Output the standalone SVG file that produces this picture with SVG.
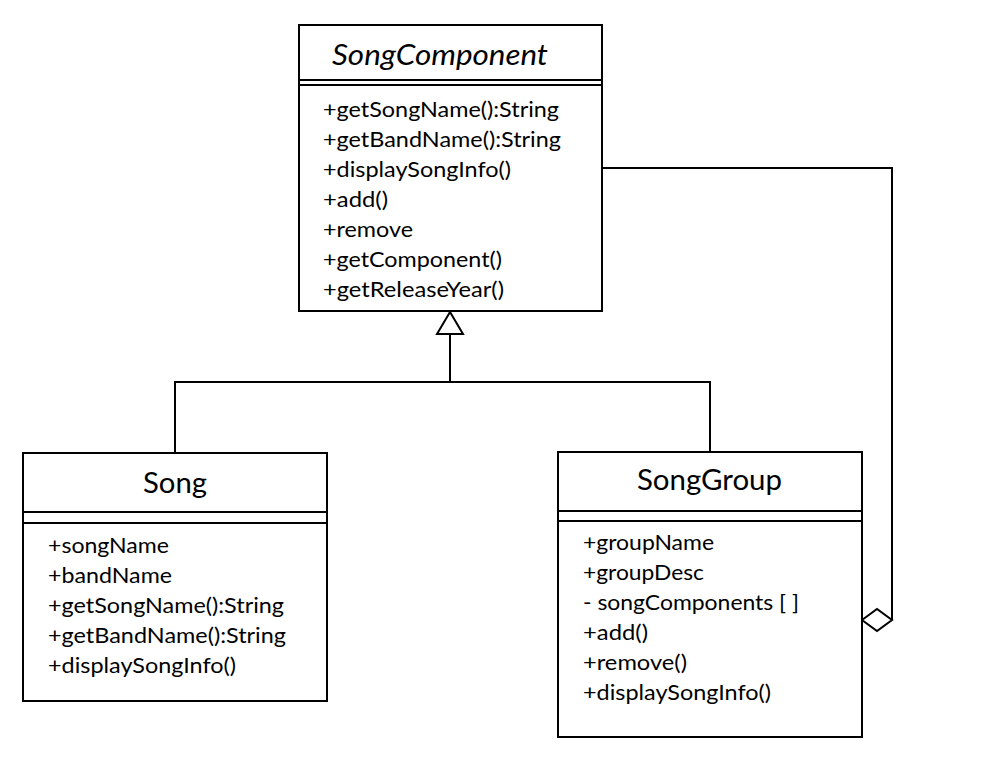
<svg xmlns="http://www.w3.org/2000/svg" width="1000" height="764" viewBox="0 0 1000 764">
<style>
.box{fill:#fff;stroke:#000;stroke-width:2}
.ln{fill:none;stroke:#000;stroke-width:2}
.t{font-family:Lato,"Liberation Sans",sans-serif;font-size:22px;fill:#000}
.h{font-family:Lato,"Liberation Sans",sans-serif;font-size:28px;fill:#000}
</style>
<rect width="1000" height="764" fill="#fff"/>
<g id="connectors">
<polyline class="ln" points="175,453 175,382 710,382 710,452"/>
<line class="ln" x1="450" y1="334" x2="450" y2="382"/>
<polygon class="ln" points="450,312 437,334 463,334" fill="#fff"/>
<polyline class="ln" points="602,168 892,168 892,620"/>
<polygon class="ln" points="862,620 877,609 892,620 877,631" fill="#fff"/>
</g>
<g id="SongComponent">
<rect class="box" x="299" y="25" width="303" height="286"/>
<line class="ln" x1="299" y1="80" x2="602" y2="80"/>
<line class="ln" x1="299" y1="85" x2="602" y2="85"/>
<text class="h" x="332" y="65" font-style="italic" textLength="216" lengthAdjust="spacingAndGlyphs">SongComponent</text>
<text class="t" x="323" y="117" textLength="236" lengthAdjust="spacingAndGlyphs">+getSongName():String</text>
<text class="t" x="323" y="147" textLength="238" lengthAdjust="spacingAndGlyphs">+getBandName():String</text>
<text class="t" x="323" y="177" textLength="188" lengthAdjust="spacingAndGlyphs">+displaySongInfo()</text>
<text class="t" x="323" y="207" textLength="65" lengthAdjust="spacingAndGlyphs">+add()</text>
<text class="t" x="323" y="237" textLength="90" lengthAdjust="spacingAndGlyphs">+remove</text>
<text class="t" x="323" y="267" textLength="179" lengthAdjust="spacingAndGlyphs">+getComponent()</text>
<text class="t" x="323" y="297" textLength="181" lengthAdjust="spacingAndGlyphs">+getReleaseYear()</text>
</g>
<g id="Song">
<rect class="box" x="23" y="453" width="304" height="248"/>
<line class="ln" x1="23" y1="512" x2="327" y2="512"/>
<line class="ln" x1="23" y1="523" x2="327" y2="523"/>
<text class="h" x="143" y="493" textLength="64" lengthAdjust="spacingAndGlyphs">Song</text>
<text class="t" x="48" y="553" textLength="121" lengthAdjust="spacingAndGlyphs">+songName</text>
<text class="t" x="48" y="583" textLength="124" lengthAdjust="spacingAndGlyphs">+bandName</text>
<text class="t" x="48" y="613" textLength="236" lengthAdjust="spacingAndGlyphs">+getSongName():String</text>
<text class="t" x="48" y="643" textLength="238" lengthAdjust="spacingAndGlyphs">+getBandName():String</text>
<text class="t" x="48" y="673" textLength="188" lengthAdjust="spacingAndGlyphs">+displaySongInfo()</text>
</g>
<g id="SongGroup">
<rect class="box" x="558" y="452" width="304" height="285"/>
<line class="ln" x1="558" y1="511" x2="862" y2="511"/>
<line class="ln" x1="558" y1="521" x2="862" y2="521"/>
<text class="h" x="637" y="490" textLength="145" lengthAdjust="spacingAndGlyphs">SongGroup</text>
<text class="t" x="583" y="550" textLength="131" lengthAdjust="spacingAndGlyphs">+groupName</text>
<text class="t" x="583" y="580" textLength="121" lengthAdjust="spacingAndGlyphs">+groupDesc</text>
<text class="t" x="583" y="610" textLength="216" lengthAdjust="spacingAndGlyphs">- songComponents [ ]</text>
<text class="t" x="583" y="640" textLength="65" lengthAdjust="spacingAndGlyphs">+add()</text>
<text class="t" x="583" y="670" textLength="104" lengthAdjust="spacingAndGlyphs">+remove()</text>
<text class="t" x="583" y="700" textLength="188" lengthAdjust="spacingAndGlyphs">+displaySongInfo()</text>
</g>
</svg>
